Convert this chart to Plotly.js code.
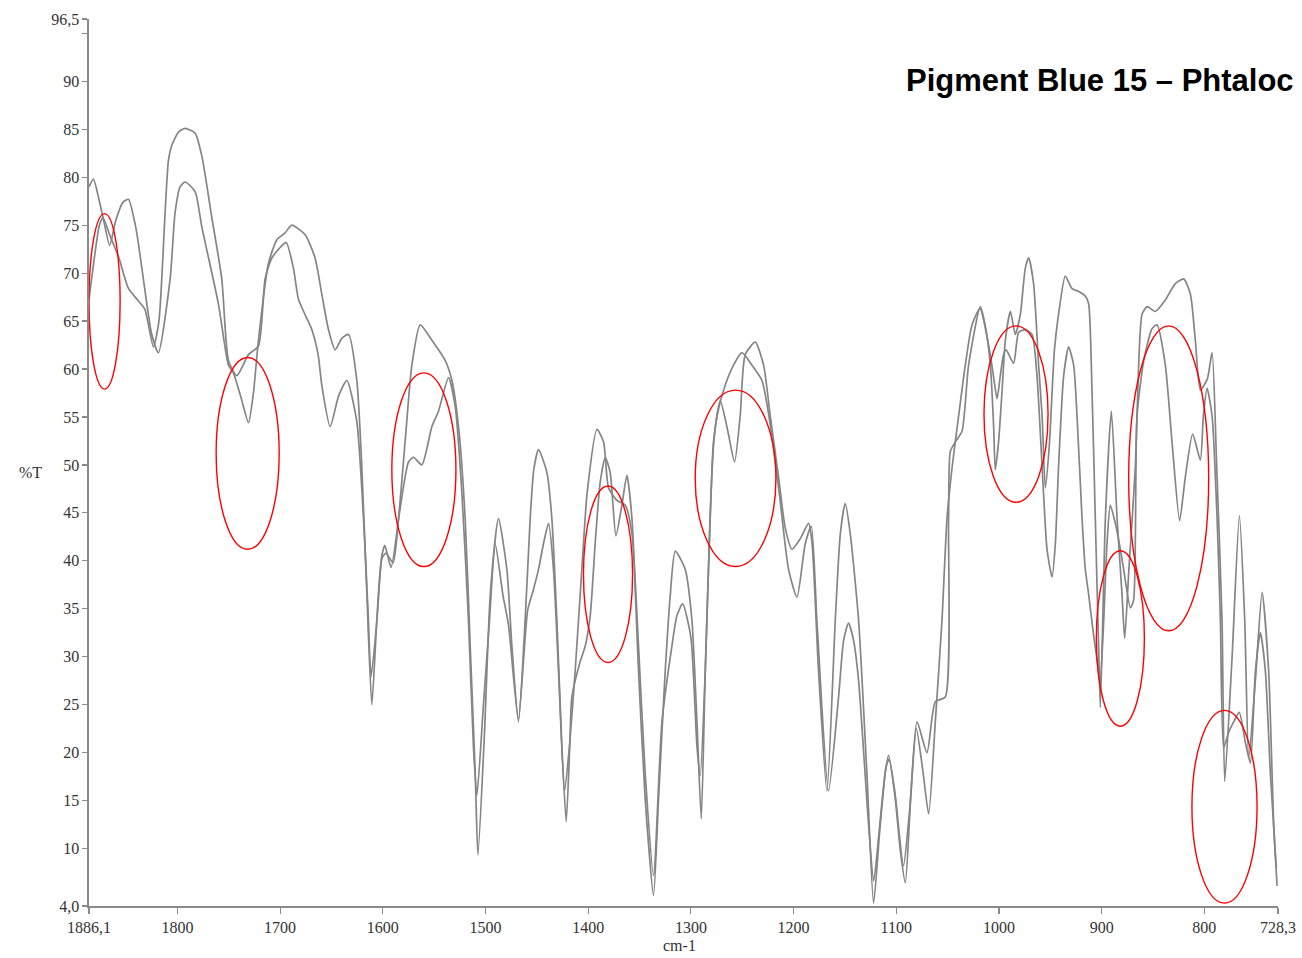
<!DOCTYPE html>
<html>
<head>
<meta charset="utf-8">
<script src="https://cdn.plot.ly/plotly-3.0.1.min.js"></script>
<style>
  html, body { margin: 0; padding: 0; background: #ffffff; }
  #chart { width: 1302px; height: 958px; }
</style>
</head>
<body>
<div id="chart"></div>
<script>
// ---- Data: IR spectra, [wavenumber (cm-1), %T] ----
const spectrumA = [
  [1886.1,79.0],[1881.8,79.8],[1876,77.5],[1872,75.6],[1866,72.9],[1860,75.5],[1853,77.4],[1847.7,77.7],[1841,75.0],[1838,73.1],
  [1829.8,66.8],[1825,63.6],[1818.5,61.7],[1807.1,69.4],[1802.3,76.3],[1797.4,79.0],[1792.5,79.5],[1782.8,78.5],[1776.2,74.8],[1760.1,66.8],
  [1750.3,60.4],[1745.5,59.6],[1738,57.0],[1730.8,54.4],[1726,57.5],[1721.1,63.0],[1711.4,71.0],[1703,73.5],[1695.1,74.2],[1688.6,75.0],
  [1675.6,74.0],[1666,71.6],[1659.4,67.8],[1652.9,64.1],[1646.4,62.0],[1640,63.2],[1633.4,63.6],[1625.3,58.8],[1620.4,49.7],[1615.5,36.5],
  [1610.7,25.0],[1605.8,33.8],[1601,40.2],[1597,40.8],[1590,39.8],[1584.7,44.4],[1578.3,52.4],[1571.7,60.4],[1563.6,64.6],[1552.2,63.0],
  [1539.3,60.9],[1532.7,58.8],[1526.3,54.0],[1519.8,44.4],[1514.9,31.1],[1510,17.8],[1507.4,9.3],[1501,22.0],[1495.4,36.4],[1487.4,44.4],
  [1479.2,39.1],[1474.3,31.1],[1467.9,23.2],[1461.4,33.8],[1456.5,44.4],[1453,49.5],[1448.4,51.6],[1440.2,49.2],[1435.4,44.4],[1430.5,33.8],
  [1425.6,20.5],[1421.4,12.8],[1418,20.5],[1415.9,25.8],[1407.8,29.5],[1402.9,31.1],[1398,34.3],[1393.2,41.8],[1388.3,48.2],[1383.4,50.8],
  [1378.6,49.2],[1373,42.6],[1367.2,45.8],[1362.3,48.9],[1357.4,44.4],[1351,28.5],[1344.5,15.2],[1336.4,5.1],[1331.5,15.2],[1325,28.5],
  [1320.1,36.4],[1315.2,41.0],[1305.5,39.1],[1299,33.8],[1294.1,23.2],[1289.9,13.1],[1286,28.5],[1281.2,44.4],[1278,52.4],[1271.4,56.7],
  [1264,53.5],[1257.5,50.3],[1252,55.1],[1247.1,61.5],[1237.3,62.8],[1229.2,60.4],[1222.7,55.1],[1214.6,48.7],[1208.1,43.4],[1201.6,41.2],
  [1193.5,42.3],[1185.4,43.9],[1182,41.8],[1175.7,28.5],[1167.5,16.0],[1159.4,33.8],[1154.5,42.8],[1149.7,46.0],[1144.8,42.8],[1136.7,33.8],
  [1128.6,17.8],[1122.1,4.3],[1116,12.0],[1110.7,17.9],[1107.5,19.7],[1101,15.2],[1096.1,9.8],[1091.2,6.4],[1086,15.2],[1079.8,23.2],
  [1070.1,20.0],[1062,25.3],[1052.3,25.8],[1049.1,44.4],[1047.4,51.4],[1042.5,52.4],[1036,53.5],[1029.6,60.4],[1018.2,66.5],[1013.5,64.6],
  [1008.4,60.4],[1005.2,54.0],[1003.6,49.5],[1000.4,52.4],[997,57.7],[993.8,63.0],[988.9,66.0],[984.1,63.6],[979.2,65.7],[974.4,70.5],
  [971.1,71.6],[966.3,68.9],[961.4,60.4],[958,55.1],[954.9,47.6],[951,52.0],[946,62.0],[942,65.7],[935.4,69.7],[929,68.4],
  [922.7,68.1],[915.9,67.6],[912.7,66.8],[909.4,57.7],[906.2,44.4],[903,31.1],[901.3,24.7],[896.4,44.4],[890.6,55.6],[885,44.4],
  [880.2,36.5],[877.6,31.9],[873.5,39.1],[867.2,49.8],[864,60.4],[860.7,65.7],[855.8,66.5],[847.7,66.0],[838,67.2],[828.3,68.9],
  [820.1,69.4],[813.6,67.8],[808.8,63.0],[803.9,57.8],[797,59.0],[792.5,61.7],[788,49.8],[782.8,33.8],[780.2,17.0],[773,30.0],
  [765.9,44.7],[760.7,33.8],[756.8,19.4],[750,28.0],[743.8,36.7],[737.4,28.5],[732.5,12.5],[729.2,6.1]
];

const spectrumB = [
  [1886.1,67.3],[1881,71.5],[1876,75.0],[1872.5,75.8],[1866,74.0],[1857,71.6],[1847.7,68.4],[1838,67.1],[1831.6,66.2],[1823.4,62.3],
  [1818,65.0],[1812,76.3],[1808.8,81.7],[1805.5,83.3],[1799,84.7],[1792.5,85.1],[1782.8,84.6],[1776.2,82.2],[1766.5,75.8],[1756.8,69.4],
  [1750.3,60.9],[1742.2,59.3],[1730.8,61.5],[1721.1,62.4],[1714.6,69.4],[1708,71.6],[1698,72.9],[1694,73.2],[1687,70.5],[1682.2,67.3],
  [1675,65.5],[1669.1,64.1],[1663,61.5],[1659.4,58.3],[1651.3,54.0],[1643,57.2],[1635,58.8],[1625.3,54.5],[1618.8,44.4],[1614.5,35.0],
  [1611.4,27.9],[1606,33.5],[1601,40.5],[1598,41.6],[1592,39.3],[1583.1,45.5],[1575,50.3],[1570.1,50.8],[1562,50.0],[1552.2,54.0],
  [1545.8,55.6],[1536,59.1],[1529.5,56.1],[1523,47.1],[1516.6,33.8],[1511.7,20.5],[1508.4,15.5],[1502,25.0],[1496,34.0],[1490.6,41.8],
  [1483,36.4],[1477.6,33.3],[1468,23.5],[1459,34.8],[1453.3,37.0],[1448.4,39.1],[1443.5,41.8],[1438.6,43.9],[1433.8,39.1],[1428.9,28.5],
  [1423,16.0],[1418,21.0],[1412.7,28.5],[1406.2,39.1],[1401,47.1],[1391.5,53.7],[1385,52.4],[1380.2,47.6],[1372,46.3],[1363.9,45.8],
  [1357.4,42.8],[1351,31.1],[1344.5,17.8],[1336.4,7.2],[1328.2,23.2],[1318.5,31.1],[1313.6,34.3],[1308,35.5],[1300,32.0],[1294,20.5],
  [1290.9,17.6],[1286,28.5],[1281.5,44.0],[1278,52.0],[1274.6,55.1],[1266.6,58.3],[1258,60.5],[1250.3,61.7],[1240.5,60.4],[1230.8,58.8],
  [1224,55.1],[1214,47.1],[1204.9,39.1],[1196.7,36.2],[1188.6,41.8],[1182.8,43.6],[1177.3,33.8],[1166,16.0],[1156.2,25.8],[1151.3,31.7],
  [1146.5,33.5],[1141.6,31.7],[1136.7,27.5],[1127,12.5],[1122,6.6],[1116.5,12.0],[1110,18.5],[1107,19.3],[1101.5,16.0],[1093,8.2],
  [1087,14.0],[1080.5,22.5],[1074,18.0],[1068.5,13.6],[1062,23.2],[1055.5,33.8],[1050.6,44.4],[1045.7,49.7],[1039.3,55.1],[1032.8,60.4],
  [1026.3,64.6],[1018.5,66.3],[1010.1,62.5],[1005,59.0],[1001.9,56.9],[998.7,59.3],[995.5,61.5],[993,62.0],[985.7,60.6],[980.9,63.8],
  [974.4,64.1],[967.8,63.6],[963,59.3],[958,49.8],[953.2,41.2],[948.3,38.3],[945.1,41.8],[942,49.8],[937,59.3],[932.2,62.3],
  [927.3,60.4],[924,55.1],[919.1,44.4],[915.9,39.1],[912.7,36.5],[907.8,32.2],[903,28.5],[901.5,27.0],[898,33.8],[894.8,41.8],
  [891.6,45.8],[886.7,43.9],[881.8,41.2],[878.6,39.1],[872.1,35.1],[868.9,35.9],[865.6,55.1],[859,60.9],[851,64.2],[846.1,64.6],
  [838,60.4],[831.5,52.4],[824.1,44.2],[818.6,48.7],[811.4,53.2],[803.9,50.5],[801,55.1],[797.4,58.0],[792.5,55.1],[787.6,44.4],
  [784.4,33.8],[781.2,20.5],[776.4,22.1],[771.5,23.2],[766,24.2],[760,21.0],[755.2,18.9],[750.3,28.5],[745.5,32.5],[740.6,28.5],
  [735.7,17.8],[730,8.0]
];

// Axis ticks
const xTickVals = [1886.1, 1800, 1700, 1600, 1500, 1400, 1300, 1200, 1100, 1000, 900, 800, 728.3];
const xTickText = ['1886,1', '1800', '1700', '1600', '1500', '1400', '1300', '1200', '1100', '1000', '900', '800', '728,3'];
const yTickVals = [96.5, 95, 90, 85, 80, 75, 70, 65, 60, 55, 50, 45, 40, 35, 30, 25, 20, 15, 10, 4.0];
const yTickText = ['96,5', '', '90', '85', '80', '75', '70', '65', '60', '55', '50', '45', '40', '35', '30', '25', '20', '15', '10', '4,0'];

// Highlighted regions (red ellipses): wavenumber span and %T span
const markWnHigh = [1886.1, 1762.3, 1591.2, 1404.6, 1295.8, 1014.6, 905.2, 873.7, 812.1];
const markWnLow  = [1855.8, 1700.9, 1528.8, 1356.8, 1217.2, 952.2, 858.4, 795.8, 748.7];
const markTLow   = [57.9, 41.2, 39.4, 29.4, 39.4, 46.1, 22.75, 32.7, 4.3];
const markTHigh  = [76.2, 61.2, 59.6, 47.8, 57.8, 64.5, 41.05, 64.5, 24.4];

// Title as visible in the reference (cropped at the right edge there)
const chartTitle = 'Pigment Blue 15 – Phtaloc';

const lineStyle = { color: '#858585', width: 1.7, shape: 'spline', smoothing: 0.6 };

const traces = [spectrumA, spectrumB].map(s => ({
  x: s.map(p => p[0]),
  y: s.map(p => p[1]),
  type: 'scatter',
  mode: 'lines',
  line: lineStyle,
  hoverinfo: 'skip',
  showlegend: false
}));

const shapes = markWnHigh.map((_, i) => ({
  type: 'circle',
  xref: 'x', yref: 'y',
  x0: markWnHigh[i], x1: markWnLow[i],
  y0: markTLow[i], y1: markTHigh[i],
  line: { color: '#ff0000', width: 1.4 },
  fillcolor: 'rgba(0,0,0,0)'
}));

const tickFont = { family: '"Liberation Serif", "DejaVu Serif", serif', size: 16, color: '#333333' };

const layout = {
  width: 1302,
  height: 958,
  margin: { l: 89, r: 24, t: 19, b: 52, pad: 0 },
  paper_bgcolor: '#ffffff',
  plot_bgcolor: '#ffffff',
  showlegend: false,
  xaxis: {
    range: [1886.1, 728.3],
    tickmode: 'array',
    tickvals: xTickVals,
    ticktext: xTickText,
    ticks: 'outside',
    ticklen: 6,
    tickwidth: 1.2,
    tickcolor: '#8a8a8a',
    showline: true,
    linecolor: '#8a8a8a',
    linewidth: 1.6,
    showgrid: false,
    zeroline: false,
    tickfont: tickFont
  },
  yaxis: {
    range: [4.0, 96.5],
    tickmode: 'array',
    tickvals: yTickVals,
    ticktext: yTickText,
    ticks: 'outside',
    ticklen: 5,
    tickwidth: 1.2,
    tickcolor: '#8a8a8a',
    showline: true,
    linecolor: '#8a8a8a',
    linewidth: 1.6,
    showgrid: false,
    zeroline: false,
    tickfont: tickFont
  },
  shapes: shapes,
  annotations: [
    {
      text: '<b>' + chartTitle + '</b>',
      xref: 'paper', yref: 'paper',
      x: 0.6854, y: 0.931,
      xanchor: 'left', yanchor: 'middle',
      showarrow: false,
      font: { family: '"Liberation Sans", Arial, sans-serif', size: 31, color: '#000000' }
    },
    {
      text: '%T',
      xref: 'paper', yref: 'paper',
      x: -0.0496, y: 0.489,
      xanchor: 'center', yanchor: 'middle',
      showarrow: false,
      font: { family: '"Liberation Serif", serif', size: 16, color: '#333333' }
    },
    {
      text: 'cm-1',
      xref: 'paper', yref: 'paper',
      x: 0.497, y: -0.045,
      xanchor: 'center', yanchor: 'middle',
      showarrow: false,
      font: { family: '"Liberation Serif", serif', size: 16, color: '#333333' }
    }
  ]
};

Plotly.newPlot('chart', traces, layout, { displayModeBar: false, staticPlot: true });
</script>
</body>
</html>
